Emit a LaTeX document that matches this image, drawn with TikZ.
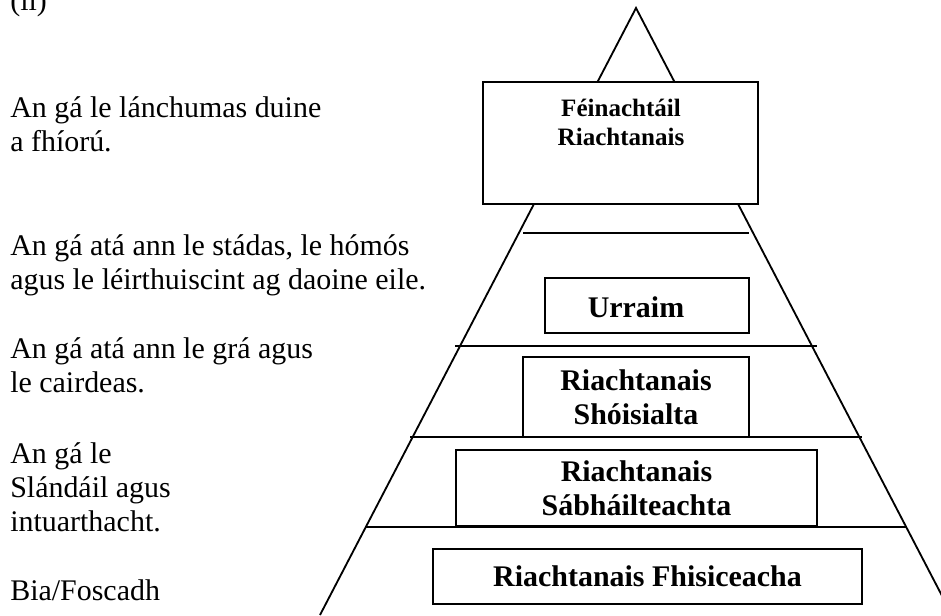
\documentclass[tikz,border=0pt]{standalone}
\usepackage{fontspec}
\setmainfont{Liberation Serif}

\begin{document}
\begin{tikzpicture}[
	tier/.style={draw, rectangle, fill=white, inner sep=0pt, line width=1.3pt, align=center, font=\fontsize{21.3}{24.2}\selectfont\bfseries},
	need/.style={inner sep=0pt, align=left, font=\fontsize{21.3}{24.2}\selectfont},
	edge/.style={line width=1.3pt}
]
	\useasboundingbox (0,0) rectangle (23.525,15.375);

	\coordinate (apex) at (15.9,15.175);
	\coordinate (base-l) at (8.0,0);
	\coordinate (base-r) at (23.8,0);
	\draw[edge] (base-l) -- (apex) -- (base-r);

	\draw[edge] (13.075,9.55) -- (18.725,9.55);
	\draw[edge] (11.375,6.725) -- (20.425,6.725);
	\draw[edge] (10.25,4.45) -- (21.55,4.45);
	\draw[edge] (9.125,2.2) -- (22.675,2.2);

	\node[tier, minimum width=6.875cm, minimum height=3.05cm] (L5-box) at (15.5125,11.8) {};
	\node[tier, draw=none, fill=none, anchor=north, font=\fontsize{17.8}{20.6}\selectfont\bfseries] (L5-T) at (15.525,12.91) {Féinachtáil\\Riachtanais};

	\node[tier, minimum width=5.1cm, minimum height=1.375cm] (L4-box) at (16.175,7.7375) {};
	\node[tier, draw=none, fill=none, anchor=base] (L4-T) at (15.9,7.45) {Urraim};

	\node[tier, minimum width=5.65cm, minimum height=2cm] (L3-box) at (15.9,5.45) {Riachtanais\\Shóisialta};
	\node[tier, minimum width=9.025cm, minimum height=1.9cm] (L2-box) at (15.9125,3.175) {Riachtanais\\Sábháilteachta};
	\node[tier, minimum width=10.725cm, minimum height=1.375cm] (L1-box) at (16.1875,0.9625) {Riachtanais Fhisiceacha};

	\node[need, anchor=base west] (N0) at (0.25,15.1) {(ii)};
	\node[need, anchor=north west] (N5) at (0.25,12.975) {An gá le lánchumas duine\\a fhíorú.};
	\node[need, anchor=north west] (N4) at (0.25,9.525) {An gá atá ann le stádas, le hómós\\agus le léirthuiscint ag daoine eile.};
	\node[need, anchor=north west] (N3) at (0.25,6.95) {An gá atá ann le grá agus\\le cairdeas.};
	\node[need, anchor=north west] (N2) at (0.25,4.325) {An gá le\\Slándáil agus\\intuarthacht.};
	\node[need, anchor=base west] (N1) at (0.25,0.375) {Bia/Foscadh};

\end{tikzpicture}
\end{document}
